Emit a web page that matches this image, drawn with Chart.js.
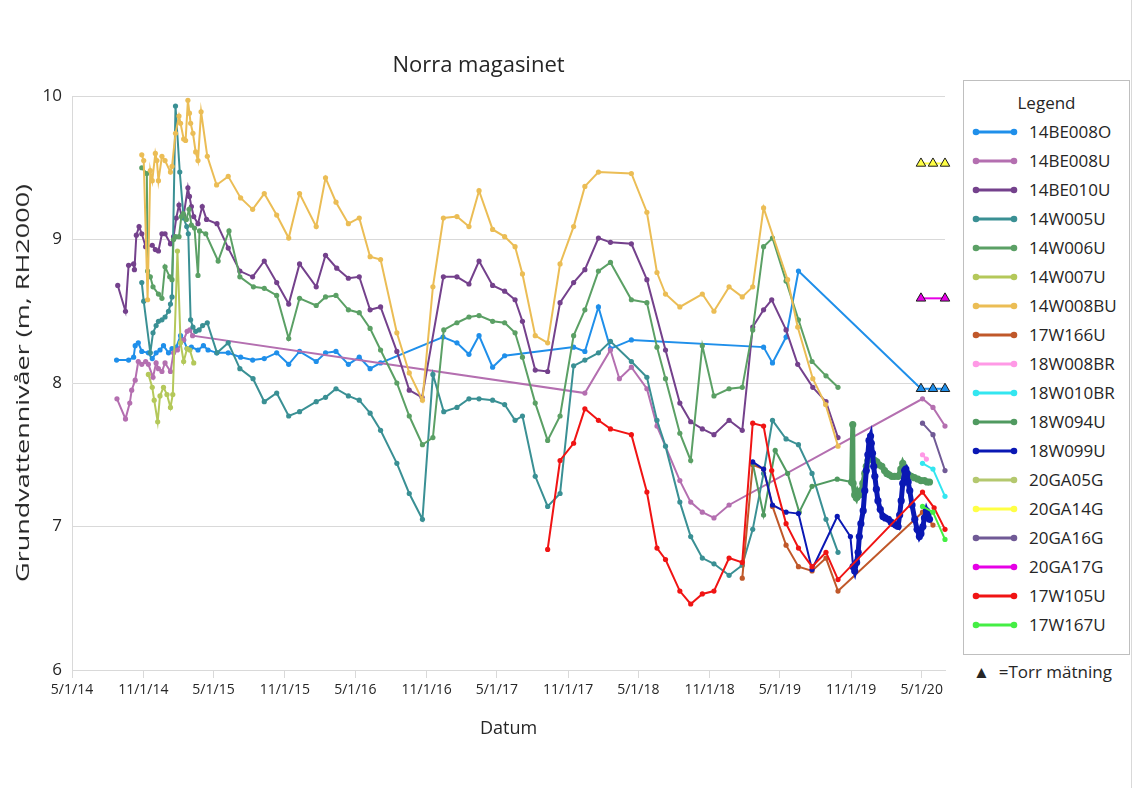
<!DOCTYPE html>
<html>
<head>
<meta charset="utf-8">
<title>Norra magasinet</title>
<script src="https://cdn.jsdelivr.net/npm/chart.js@4.4.1/dist/chart.umd.min.js"></script>
<style>
  html, body { margin: 0; padding: 0; background: #fff; }
  body { width: 1139px; height: 788px; position: relative; overflow: hidden;
         font-family: "Open Sans", sans-serif; color: #262626; }
  #wrap { position: absolute; left: 0; top: 0; width: 960px; height: 788px; }
  #ytitle { position: absolute; left: 22px; top: 383px; white-space: nowrap; font-size: 18px;
            transform: translate(-50%, -50%) rotate(-90deg) scaleX(1.5); }
  #legend { position: absolute; left: 963px; top: 80px; width: 167px; height: 575px;
            border: 1px solid #bfbfbf; box-sizing: border-box; padding-top: 10px; }
  #legend .head { text-align: center; font-size: 17px; line-height: 24px; margin-bottom: 2px; }
  #legend .row { height: 29px; display: flex; align-items: center; font-size: 17px; }
  #legend .row svg { margin-left: 8px; margin-right: 11px; }
  #torr { position: absolute; left: 973px; top: 660px; font-size: 17px; }
  #frame { position: absolute; left: 1131px; top: 0; width: 1px; height: 788px; background: #d9d9d9; }
</style>
</head>
<body>
<div id="wrap"><canvas id="myChart"></canvas></div>
<div id="ytitle">Grundvattennivåer (m, RH2000)</div>
<div id="legend"><div class="head">Legend</div></div>
<div id="torr">&#9650;&nbsp; =Torr mätning</div>
<div id="frame"></div>
<script>
// tick labels on the date axis
const xTickLabels = ['5/1/14', '11/1/14', '5/1/15', '11/1/15', '5/1/16', '11/1/16', '5/1/17',
    '11/1/17', '5/1/18', '11/1/18', '5/1/19', '11/1/19', '5/1/20'];

const serieNamn = ['14BE008O', '14BE008U', '14BE010U', '14W005U', '14W006U', '14W007U', '14W008BU',
    '17W166U', '18W008BR', '18W010BR', '18W094U', '18W099U', '20GA05G', '20GA14G', '20GA16G',
    '20GA17G', '17W105U', '17W167U'];

// [datum, nivå (m, RH2000)]
const s14BE008O = [['2014-08-24', 8.16], ['2014-09-24', 8.16], ['2014-10-07', 8.18], ['2014-10-11', 8.26],
    ['2014-10-19', 8.28], ['2014-10-28', 8.22], ['2014-11-14', 8.21], ['2014-11-24', 8.17], ['2014-12-04', 8.21],
    ['2014-12-14', 8.23], ['2014-12-23', 8.26], ['2015-01-05', 8.21], ['2015-01-14', 8.24], ['2015-01-25', 8.25],
    ['2015-02-05', 8.33], ['2015-02-13', 8.30], ['2015-02-22', 8.24], ['2015-03-05', 8.25], ['2015-03-22', 8.23],
    ['2015-04-05', 8.26], ['2015-04-17', 8.23], ['2015-05-09', 8.21], ['2015-06-08', 8.21], ['2015-07-10', 8.18],
    ['2015-08-10', 8.16], ['2015-09-09', 8.17], ['2015-10-11', 8.21], ['2015-11-11', 8.13], ['2015-12-09', 8.22],
    ['2016-01-21', 8.15], ['2016-02-14', 8.21], ['2016-03-12', 8.22], ['2016-04-13', 8.13], ['2016-05-11', 8.18],
    ['2016-06-08', 8.10], ['2016-07-05', 8.14], ['2016-12-13', 8.32], ['2017-01-18', 8.28], ['2017-02-18', 8.20],
    ['2017-03-16', 8.33], ['2017-04-20', 8.11], ['2017-05-21', 8.19], ['2017-11-15', 8.25], ['2017-12-14', 8.22],
    ['2018-01-18', 8.53], ['2018-02-18', 8.24], ['2018-04-13', 8.30], ['2019-03-20', 8.25], ['2019-04-12', 8.14],
    ['2019-05-17', 8.32], ['2019-06-18', 8.78], ['2020-04-29', 7.96], ['2020-05-30', 7.96], ['2020-06-30', 7.96]];

const s14BE008U = [['2014-08-25', 7.89], ['2014-09-16', 7.75], ['2014-09-27', 7.86], ['2014-10-02', 7.95],
    ['2014-10-11', 8.02], ['2014-10-19', 8.15], ['2014-10-28', 8.13], ['2014-11-07', 8.15], ['2014-11-14', 8.13],
    ['2014-11-26', 8.04], ['2014-12-04', 8.14], ['2014-12-10', 8.10], ['2014-12-19', 8.08], ['2014-12-27', 8.14],
    ['2015-01-10', 8.08], ['2015-01-18', 8.21], ['2015-01-28', 8.23], ['2015-02-13', 8.30], ['2015-02-22', 8.36],
    ['2015-03-01', 8.37], ['2015-03-08', 8.33], ['2017-12-14', 7.93], ['2018-02-18', 8.23], ['2018-03-13', 8.03],
    ['2018-04-13', 8.11], ['2018-05-23', 7.96], ['2018-06-18', 7.70], ['2018-08-16', 7.32], ['2018-09-13', 7.17],
    ['2018-10-13', 7.10], ['2018-11-12', 7.06], ['2018-12-21', 7.15], ['2020-05-03', 7.89], ['2020-05-30', 7.83],
    ['2020-06-30', 7.70]];

const s14BE010U = [['2014-08-27', 8.68], ['2014-09-16', 8.50], ['2014-09-24', 8.82], ['2014-10-07', 8.83],
    ['2014-10-09', 8.79], ['2014-10-14', 9.03], ['2014-10-21', 9.09], ['2014-10-28', 9.04], ['2014-11-07', 8.95],
    ['2014-11-24', 8.96], ['2014-12-02', 8.93], ['2014-12-10', 8.92], ['2014-12-19', 9.04], ['2014-12-27', 9.04],
    ['2015-01-10', 8.97], ['2015-01-18', 9.02], ['2015-01-25', 9.15], ['2015-02-01', 9.24], ['2015-02-08', 9.16],
    ['2015-02-13', 9.17], ['2015-02-24', 9.36], ['2015-02-28', 9.30], ['2015-03-05', 9.23], ['2015-03-11', 9.16],
    ['2015-03-22', 9.11], ['2015-04-02', 9.23], ['2015-04-13', 9.14], ['2015-05-10', 9.11], ['2015-06-08', 8.94],
    ['2015-07-08', 8.78], ['2015-08-10', 8.74], ['2015-09-09', 8.85], ['2015-10-11', 8.70], ['2015-11-11', 8.55],
    ['2015-12-09', 8.83], ['2016-01-21', 8.67], ['2016-02-14', 8.89], ['2016-03-14', 8.80], ['2016-04-13', 8.73],
    ['2016-05-11', 8.74], ['2016-06-08', 8.51], ['2016-07-05', 8.53], ['2016-08-16', 8.22], ['2016-09-17', 7.95],
    ['2016-10-20', 7.90], ['2016-12-14', 8.74], ['2017-01-18', 8.74], ['2017-02-18', 8.69], ['2017-03-16', 8.85],
    ['2017-04-20', 8.68], ['2017-05-21', 8.64], ['2017-06-17', 8.58], ['2017-07-06', 8.43], ['2017-08-08', 8.09],
    ['2017-09-09', 8.08], ['2017-10-11', 8.56], ['2017-11-15', 8.70], ['2017-12-14', 8.79], ['2018-01-18', 9.01],
    ['2018-02-18', 8.98], ['2018-04-13', 8.97], ['2018-05-23', 8.72], ['2018-07-10', 8.23], ['2018-08-16', 7.86],
    ['2018-09-13', 7.73], ['2018-10-13', 7.68], ['2018-11-12', 7.64], ['2018-12-21', 7.74], ['2019-01-24', 7.67],
    ['2019-02-20', 8.39], ['2019-03-20', 8.51], ['2019-04-10', 8.58], ['2019-05-17', 8.37], ['2019-06-16', 8.13],
    ['2019-07-25', 7.97], ['2019-08-28', 7.87], ['2019-09-28', 7.62]];

const s14W005U = [['2014-10-28', 8.70], ['2014-11-02', 8.57], ['2014-11-19', 8.21], ['2014-11-26', 8.35],
    ['2014-12-04', 8.40], ['2014-12-10', 8.43], ['2014-12-19', 8.44], ['2014-12-27', 8.46], ['2015-01-05', 8.50],
    ['2015-01-10', 8.55], ['2015-01-14', 8.60], ['2015-01-23', 9.93], ['2015-02-03', 9.47], ['2015-02-13', 9.15],
    ['2015-02-21', 9.09], ['2015-02-25', 9.04], ['2015-03-03', 8.44], ['2015-03-09', 8.39], ['2015-03-16', 8.36],
    ['2015-03-25', 8.37], ['2015-04-03', 8.40], ['2015-04-15', 8.42], ['2015-05-10', 8.21], ['2015-06-08', 8.28],
    ['2015-07-08', 8.10], ['2015-08-11', 8.03], ['2015-09-09', 7.87], ['2015-10-11', 7.93], ['2015-11-11', 7.77],
    ['2015-12-09', 7.80], ['2016-01-21', 7.87], ['2016-02-14', 7.90], ['2016-03-12', 7.96], ['2016-04-13', 7.91],
    ['2016-05-11', 7.88], ['2016-06-08', 7.79], ['2016-07-05', 7.67], ['2016-08-16', 7.44], ['2016-09-17', 7.23],
    ['2016-10-21', 7.05], ['2016-11-17', 8.06], ['2016-12-15', 7.80], ['2017-01-18', 7.83], ['2017-02-18', 7.89],
    ['2017-03-16', 7.89], ['2017-04-20', 7.88], ['2017-05-21', 7.85], ['2017-06-17', 7.74], ['2017-07-06', 7.77],
    ['2017-08-08', 7.35], ['2017-09-09', 7.14], ['2017-10-11', 7.23], ['2017-11-15', 8.12], ['2017-12-14', 8.16],
    ['2018-01-18', 8.21], ['2018-02-18', 8.29], ['2018-04-13', 8.15], ['2018-05-23', 8.04], ['2018-06-18', 7.74],
    ['2018-07-10', 7.56], ['2018-08-16', 7.17], ['2018-09-13', 6.93], ['2018-10-13', 6.78], ['2018-11-12', 6.74],
    ['2018-12-21', 6.66], ['2019-01-24', 6.73], ['2019-02-20', 6.98], ['2019-03-20', 7.37], ['2019-04-12', 7.74],
    ['2019-05-17', 7.61], ['2019-06-18', 7.57], ['2019-07-23', 7.37], ['2019-08-28', 7.05], ['2019-09-28', 6.82]];

const s14W006U = [['2014-10-28', 9.50], ['2014-11-10', 9.46], ['2014-11-12', 8.78], ['2014-11-19', 8.74],
    ['2014-11-26', 8.67], ['2014-12-10', 8.62], ['2014-12-19', 8.59], ['2014-12-27', 8.81], ['2015-01-08', 8.74],
    ['2015-01-14', 8.72], ['2015-01-18', 9.00], ['2015-01-23', 9.02], ['2015-02-01', 9.02], ['2015-02-07', 9.16],
    ['2015-02-12', 9.18], ['2015-02-20', 9.14], ['2015-02-27', 9.21], ['2015-03-05', 9.10], ['2015-03-13', 9.08],
    ['2015-03-22', 8.75], ['2015-03-26', 9.06], ['2015-04-11', 9.04], ['2015-05-13', 8.85], ['2015-06-10', 9.06],
    ['2015-07-08', 8.74], ['2015-08-12', 8.67], ['2015-09-09', 8.66], ['2015-10-11', 8.61], ['2015-11-11', 8.31],
    ['2015-12-09', 8.59], ['2016-01-21', 8.54], ['2016-02-14', 8.60], ['2016-03-12', 8.61], ['2016-04-13', 8.51],
    ['2016-05-11', 8.49], ['2016-06-08', 8.38], ['2016-07-05', 8.23], ['2016-08-16', 8.00], ['2016-09-17', 7.77],
    ['2016-10-21', 7.57], ['2016-11-17', 7.62], ['2016-12-15', 8.37], ['2017-01-18', 8.42], ['2017-02-18', 8.46],
    ['2017-03-16', 8.47], ['2017-04-20', 8.43], ['2017-05-21', 8.42], ['2017-06-17', 8.35], ['2017-07-06', 8.18],
    ['2017-08-08', 7.86], ['2017-09-09', 7.60], ['2017-10-11', 7.77], ['2017-11-15', 8.33], ['2017-12-14', 8.51],
    ['2018-01-18', 8.78], ['2018-02-18', 8.84], ['2018-04-13', 8.58], ['2018-05-23', 8.56], ['2018-06-18', 8.25],
    ['2018-07-10', 8.03], ['2018-08-16', 7.65], ['2018-09-13', 7.46], ['2018-10-13', 8.26], ['2018-11-12', 7.91],
    ['2018-12-21', 7.96], ['2019-01-24', 7.97], ['2019-02-20', 8.37], ['2019-03-20', 8.95], ['2019-04-12', 9.01],
    ['2019-05-17', 8.71], ['2019-06-18', 8.44], ['2019-07-23', 8.15], ['2019-08-28', 8.05], ['2019-09-28', 7.97]];

const s14W007U = [['2014-11-14', 8.06], ['2014-11-24', 7.97], ['2014-11-29', 7.88], ['2014-12-08', 7.73],
    ['2014-12-14', 7.91], ['2014-12-23', 7.97], ['2015-01-01', 7.92], ['2015-01-10', 7.83], ['2015-01-16', 7.92],
    ['2015-01-28', 8.92], ['2015-02-05', 8.28], ['2015-02-13', 8.15], ['2015-02-22', 8.24], ['2015-03-01', 8.23],
    ['2015-03-11', 8.14]];

const s14W008BU = [['2014-10-28', 9.59], ['2014-11-02', 9.55], ['2014-11-12', 8.58], ['2014-11-19', 9.48],
    ['2014-11-24', 9.41], ['2014-12-02', 9.60], ['2014-12-06', 9.55], ['2014-12-10', 9.41], ['2014-12-19', 9.58],
    ['2014-12-27', 9.55], ['2015-01-10', 9.47], ['2015-01-14', 9.51], ['2015-01-23', 9.74], ['2015-02-01', 9.86],
    ['2015-02-05', 9.81], ['2015-02-13', 9.70], ['2015-02-18', 9.69], ['2015-02-24', 9.97], ['2015-02-28', 9.88],
    ['2015-03-03', 9.81], ['2015-03-09', 9.74], ['2015-03-16', 9.61], ['2015-03-22', 9.55], ['2015-03-30', 9.89],
    ['2015-04-15', 9.58], ['2015-05-09', 9.38], ['2015-06-08', 9.44], ['2015-07-10', 9.29], ['2015-08-10', 9.21],
    ['2015-09-09', 9.32], ['2015-10-11', 9.17], ['2015-11-11', 9.01], ['2015-12-09', 9.32], ['2016-01-21', 9.09],
    ['2016-02-14', 9.43], ['2016-03-12', 9.26], ['2016-04-13', 9.11], ['2016-05-11', 9.15], ['2016-06-08', 8.88],
    ['2016-07-05', 8.86], ['2016-08-16', 8.35], ['2016-09-17', 8.07], ['2016-10-21', 7.88], ['2016-11-17', 8.67],
    ['2016-12-14', 9.15], ['2017-01-18', 9.16], ['2017-02-18', 9.09], ['2017-03-16', 9.34], ['2017-04-20', 9.07],
    ['2017-05-21', 9.02], ['2017-06-17', 8.95], ['2017-07-06', 8.76], ['2017-08-08', 8.33], ['2017-09-09', 8.28],
    ['2017-10-11', 8.83], ['2017-11-15', 9.09], ['2017-12-14', 9.37], ['2018-01-18', 9.47], ['2018-04-13', 9.46],
    ['2018-05-23', 9.19], ['2018-06-18', 8.77], ['2018-07-10', 8.62], ['2018-08-16', 8.53], ['2018-10-13', 8.62],
    ['2018-11-12', 8.50], ['2018-12-21', 8.67], ['2019-01-24', 8.60], ['2019-02-20', 8.67], ['2019-03-20', 9.22],
    ['2019-05-21', 8.72], ['2019-06-16', 8.39], ['2019-07-25', 8.03], ['2019-08-27', 7.85], ['2019-09-28', 7.56]];

const s17W166U = [['2019-01-24', 6.64], ['2019-02-20', 7.43], ['2019-03-20', 7.40], ['2019-04-12', 7.14],
    ['2019-05-17', 6.87], ['2019-06-18', 6.72], ['2019-07-23', 6.69], ['2019-08-28', 6.78], ['2019-09-28', 6.55],
    ['2020-05-03', 7.10], ['2020-05-30', 7.01]];

const s18W008BR = [['2020-05-03', 7.50], ['2020-05-13', 7.47]];

const s18W010BR = [['2020-05-03', 7.44], ['2020-05-30', 7.40], ['2020-06-30', 7.21]];

const s18W094U = [['2019-02-20', 7.44], ['2019-03-20', 7.08], ['2019-04-19', 7.53], ['2019-05-21', 7.37],
    ['2019-06-20', 7.10], ['2019-07-23', 7.28], ['2019-09-26', 7.33], ['2019-11-02', 7.31], ['2019-11-05', 7.71],
    ['2019-11-06', 7.30], ['2019-11-10', 7.22], ['2019-11-14', 7.20], ['2019-11-18', 7.24], ['2019-11-22', 7.22],
    ['2019-11-27', 7.25], ['2019-12-01', 7.30], ['2019-12-06', 7.37], ['2019-12-10', 7.42], ['2019-12-14', 7.46],
    ['2019-12-18', 7.49], ['2019-12-22', 7.48], ['2019-12-27', 7.47], ['2020-01-01', 7.46], ['2020-01-06', 7.45],
    ['2020-01-12', 7.43], ['2020-01-19', 7.42], ['2020-01-26', 7.39], ['2020-02-01', 7.37], ['2020-02-07', 7.36],
    ['2020-02-14', 7.35], ['2020-02-21', 7.35], ['2020-03-01', 7.35], ['2020-03-08', 7.40], ['2020-03-13', 7.44],
    ['2020-03-18', 7.41], ['2020-03-22', 7.38], ['2020-03-28', 7.36], ['2020-04-04', 7.35], ['2020-04-12', 7.34],
    ['2020-04-21', 7.33], ['2020-04-29', 7.32], ['2020-05-08', 7.32], ['2020-05-15', 7.31], ['2020-05-21', 7.31]];

const s18W099U = [['2019-02-20', 7.45], ['2019-03-20', 7.40], ['2019-04-12', 7.15], ['2019-05-17', 7.10],
    ['2019-06-18', 7.09], ['2019-07-23', 6.70], ['2019-09-26', 7.07], ['2019-10-30', 6.93], ['2019-11-06', 6.72],
    ['2019-11-10', 6.69], ['2019-11-15', 6.75], ['2019-11-19', 6.82], ['2019-11-22', 6.93], ['2019-11-26', 7.02],
    ['2019-12-02', 7.11], ['2019-12-06', 7.25], ['2019-12-10', 7.39], ['2019-12-14', 7.50], ['2019-12-17', 7.60],
    ['2019-12-21', 7.63], ['2019-12-23', 7.58], ['2019-12-26', 7.51], ['2019-12-29', 7.42], ['2020-01-01', 7.35],
    ['2020-01-05', 7.26], ['2020-01-09', 7.18], ['2020-01-15', 7.12], ['2020-01-22', 7.07], ['2020-01-28', 7.06],
    ['2020-02-05', 7.05], ['2020-02-12', 7.03], ['2020-02-18', 7.02], ['2020-02-24', 7.01], ['2020-03-01', 7.00],
    ['2020-03-05', 7.08], ['2020-03-09', 7.18], ['2020-03-13', 7.30], ['2020-03-18', 7.39], ['2020-03-21', 7.40],
    ['2020-03-24', 7.37], ['2020-03-27', 7.31], ['2020-03-31', 7.25], ['2020-04-06', 7.15], ['2020-04-13', 7.05],
    ['2020-04-19', 6.98], ['2020-04-25', 6.93], ['2020-04-29', 6.95], ['2020-05-04', 7.00], ['2020-05-08', 7.06],
    ['2020-05-13', 7.11], ['2020-05-17', 7.08], ['2020-05-21', 7.05]];

const s20GA05G = [];

const s20GA14G = [['2020-04-29', 9.53], ['2020-05-30', 9.53], ['2020-06-30', 9.53]];

const s20GA16G = [['2020-05-03', 7.72], ['2020-05-30', 7.64], ['2020-06-30', 7.39]];

const s20GA17G = [['2020-04-29', 8.59], ['2020-06-30', 8.59]];

const s17W105U = [['2017-09-09', 6.84], ['2017-10-11', 7.46], ['2017-11-15', 7.58], ['2017-12-14', 7.82],
    ['2018-01-18', 7.74], ['2018-02-18', 7.68], ['2018-04-13', 7.64], ['2018-05-23', 7.24], ['2018-06-18', 6.85],
    ['2018-07-10', 6.77], ['2018-08-16', 6.55], ['2018-09-13', 6.46], ['2018-10-13', 6.53], ['2018-11-12', 6.55],
    ['2018-12-21', 6.78], ['2019-01-24', 6.75], ['2019-02-20', 7.72], ['2019-03-20', 7.70], ['2019-04-10', 7.39],
    ['2019-05-17', 7.02], ['2019-06-18', 6.85], ['2019-07-23', 6.72], ['2019-08-28', 6.82], ['2019-09-28', 6.63],
    ['2020-05-03', 7.24], ['2020-06-02', 7.13], ['2020-06-30', 6.98]];

const s17W167U = [['2020-05-03', 7.14], ['2020-05-30', 7.10], ['2020-06-30', 6.91]];

// dry measurements (drawn as triangles)
const torrMatning = {
    '14BE008O': ['2020-04-29', '2020-05-30', '2020-06-30'],
    '20GA14G': ['2020-04-29', '2020-05-30', '2020-06-30'],
    '20GA17G': ['2020-04-29', '2020-06-30'],
};

// loggers with dense readings from this date on
const loggerStart = { '18W094U': '2019-11-01', '18W099U': '2019-11-01' };

const serier = {
    '14BE008O': s14BE008O, '14BE008U': s14BE008U, '14BE010U': s14BE010U, '14W005U': s14W005U,
    '14W006U': s14W006U, '14W007U': s14W007U, '14W008BU': s14W008BU, '17W166U': s17W166U,
    '18W008BR': s18W008BR, '18W010BR': s18W010BR, '18W094U': s18W094U, '18W099U': s18W099U,
    '20GA05G': s20GA05G, '20GA14G': s20GA14G, '20GA16G': s20GA16G, '20GA17G': s20GA17G,
    '17W105U': s17W105U, '17W167U': s17W167U,
};

const serieFarg = ['#1f8fea', '#b46fb0', '#74418c', '#3a9094', '#5ba065', '#b4c85a', '#ebbd55',
    '#c0582a', '#ff99e6', '#33e6f0', '#509a60', '#0a18b4', '#b4c86e', '#ffff44', '#705a96',
    '#e600e6', '#f01414', '#44ee44'];

const textColor = '#262626';
const gridColor = '#d9d9d9';
const fontFamily = '"Open Sans", sans-serif';

const toMs = s => Date.parse(s);
const tickMs = xTickLabels.map(l => {
    const [m, d, y] = l.split('/').map(Number);
    return Date.UTC(2000 + y, m - 1, d);
});

const isTorr = ctx => !!(ctx.raw && ctx.raw.torr);
const isLogger = ctx => !!(ctx.raw && ctx.raw.logger);

const datasets = serieNamn.map((namn, i) => {
    const torr = torrMatning[namn] || [];
    const logFrom = loggerStart[namn] ? toMs(loggerStart[namn]) : Infinity;
    const col = serieFarg[i];
    return {
        label: namn,
        data: serier[namn].map(([d, v]) => ({
            x: toMs(d), y: v, torr: torr.includes(d), logger: toMs(d) >= logFrom
        })),
        borderColor: col,
        backgroundColor: col,
        borderWidth: 2,
        tension: 0,
        segment: {
            borderWidth: sctx => (sctx.p0.parsed.x >= logFrom ? 5 : undefined),
        },
        pointStyle: ctx => isTorr(ctx) ? 'triangle' : 'circle',
        pointRadius: ctx => isTorr(ctx) ? 5.5 : (isLogger(ctx) ? 3.6 : 2.6),
        pointBorderWidth: ctx => isTorr(ctx) ? 1 : 0,
        pointBorderColor: ctx => isTorr(ctx) ? '#1a1a1a' : col,
        pointBackgroundColor: col,
        clip: false,
        order: serieNamn.length - i,
    };
});

// html legend built from the same series
const legendBox = document.getElementById('legend');
serieNamn.forEach((namn, i) => {
    const c = serieFarg[i];
    const row = document.createElement('div');
    row.className = 'row';
    row.innerHTML = `<svg width="46" height="10"><line x1="4" y1="5" x2="42" y2="5" stroke="${c}" stroke-width="3"/>` +
        `<circle cx="4" cy="5" r="3.3" fill="${c}"/><circle cx="42" cy="5" r="3.3" fill="${c}"/></svg><span>${namn}</span>`;
    legendBox.appendChild(row);
});

const config = {
    type: 'line',
    data: { datasets },
    options: {
        responsive: true,
        maintainAspectRatio: false,
        animation: false,
        layout: { padding: { top: 0, right: 15, bottom: 38, left: 12 } },
        plugins: {
            legend: { display: false },
            tooltip: { enabled: false },
            title: {
                display: true,
                text: 'Norra magasinet',
                color: textColor,
                font: { family: fontFamily, size: 22, weight: 'normal' },
                padding: { top: 53, bottom: 16.6 },
            },
        },
        scales: {
            x: {
                type: 'linear',
                min: toMs('2014-05-01'),
                max: toMs('2020-06-30'),
                afterBuildTicks: scale => { scale.ticks = tickMs.map(v => ({ value: v })); },
                afterFit: scale => { scale.height = 80; },
                ticks: {
                    autoSkip: false,
                    maxRotation: 0,
                    padding: 4,
                    color: textColor,
                    font: { family: fontFamily, size: 14 },
                    callback: (value, index) => xTickLabels[index],
                },
                grid: { drawOnChartArea: false, drawTicks: true, tickLength: 8, color: gridColor },
                border: { color: gridColor },
                title: {
                    display: true,
                    text: 'Datum',
                    color: textColor,
                    font: { family: fontFamily, size: 18 },
                    padding: { top: 0, bottom: 10 },
                },
            },
            y: {
                min: 6,
                max: 10,
                afterFit: scale => { scale.width = 60; },
                ticks: {
                    stepSize: 1,
                    padding: 10,
                    color: textColor,
                    font: { family: fontFamily, size: 17 },
                },
                grid: { color: gridColor, drawTicks: false },
                border: { color: gridColor },
            },
        },
    },
};

const ctx = document.getElementById('myChart');
const myChart = new Chart(ctx, config);
</script>
</body>
</html>
